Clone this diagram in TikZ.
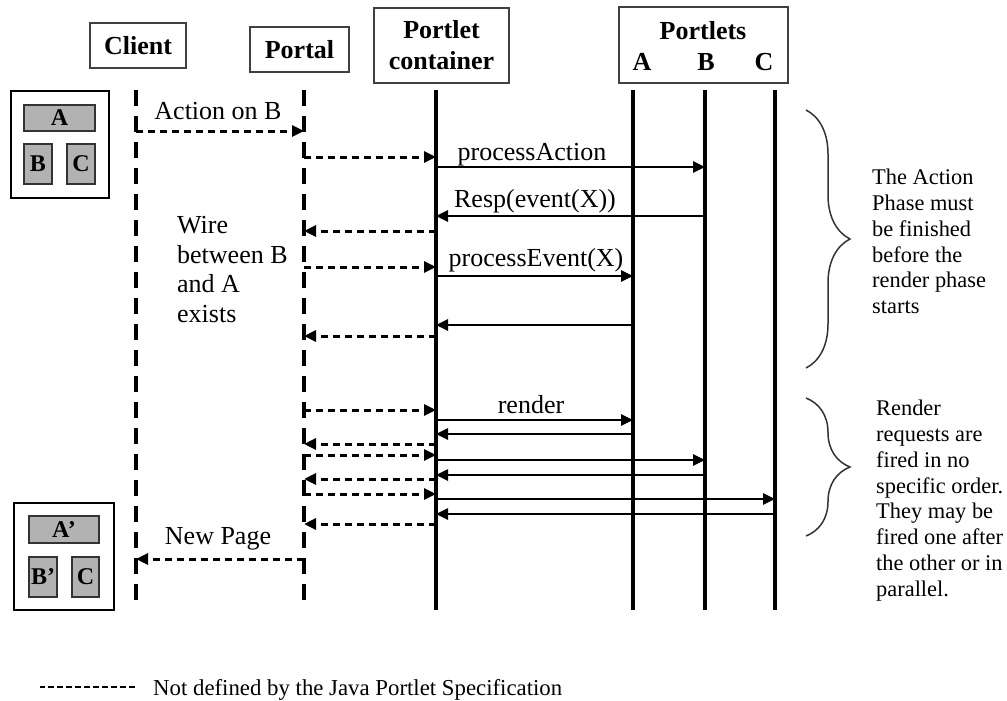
\documentclass[tikz,border=0pt]{standalone}
\usepackage{fontspec}
\setmainfont{Liberation Serif}
\usepackage{tikz}
\usetikzlibrary{arrows.meta,positioning,calc,decorations.pathreplacing}

\begin{document}
\begin{tikzpicture}[x=1pt, y=-1pt,
    actor/.style={draw=black!75, line width=1.5pt, fill=white, inner sep=0pt, align=center, font=\fontsize{26}{31}\selectfont\bfseries},
    head/.style={inner sep=0pt, font=\fontsize{26}{31}\selectfont\bfseries},
    life/.style={line width=4pt, dash pattern=on 16pt off 10pt},
    bar/.style={line width=3.5pt},
    call/.style={line width=2.5pt, -{Triangle[length=12pt,width=11pt]}},
    wire/.style={line width=3pt, dash pattern=on 7pt off 5pt, -{Triangle[length=12pt,width=11pt]}},
    lbl/.style={inner sep=0pt, font=\fontsize{26}{31}\selectfont},
    note/.style={inner sep=0pt, anchor=north west, align=left, font=\fontsize{22.4}{25.8}\selectfont},
    page/.style={draw, line width=1.5pt, fill=white, inner sep=0pt},
    pane/.style={draw=black!80, line width=1.5pt, fill=black!30, inner sep=0pt, font=\fontsize{24}{28}\selectfont\bfseries},
    phase/.style={draw=black!80, line width=1.5pt, decorate, decoration={brace, amplitude=44pt, aspect=0.5}}
]
\useasboundingbox (0,0) rectangle (1007,701);

% headers
\node[actor, minimum width=96pt, minimum height=45pt] (client) at (138,45.5) {Client};
\node[actor, minimum width=99pt, minimum height=45pt] (portal) at (299.5,49.5) {Portal};
\node[actor, minimum width=135pt, minimum height=75pt] (container) at (441.5,45.5) {Portlet\\container};
\node[actor, minimum width=169pt, minimum height=76pt] (portlets) at (703.5,45) {};
\node[head] (hdr) at (703,31) {Portlets};
\node[head] (hdrA) at (642,62) {A};
\node[head] (hdrB) at (706,62) {B};
\node[head] (hdrC) at (764,62) {C};

% lifelines
\coordinate (cl) at (136,90);
\coordinate (pl) at (304,90);
\coordinate (ct) at (436,90);
\coordinate (pa) at (633,90);
\coordinate (pb) at (705,90);
\coordinate (pc) at (775,90);
\draw[life] (cl) -- ++(0,518);
\draw[life] (pl) -- ++(0,518);
\draw[bar] (ct) -- ++(0,520);
\draw[bar] (pa) -- ++(0,520);
\draw[bar] (pb) -- ++(0,520);
\draw[bar, line width=4pt] (pc) -- ++(0,520);

% page before
\node[page, minimum width=98pt, minimum height=107pt] (page1) at (60,144.5) {};
\node[pane, minimum width=71pt, minimum height=26pt] (p1a) at (59.5,118) {A};
\node[pane, minimum width=28pt, minimum height=40pt] (p1b) at (38,164) {B};
\node[pane, minimum width=28pt, minimum height=40pt] (p1c) at (81,164) {C};

% action phase
\draw[wire] (cl |- 0,131) -- (pl |- 0,131);
\node[lbl] (act) at (218,111) {Action on B};
\draw[wire] (pl |- 0,157) -- (ct |- 0,157);
\draw[call] (ct |- 0,167) -- (pb |- 0,167);
\node[lbl] (pact) at (532,155) {processAction};
\draw[call] (pb |- 0,216) -- (ct |- 0,216);
\node[lbl] (resp) at (535,201) {Resp(event(X))};
\draw[wire] (ct |- 0,231) -- (pl |- 0,231);
\draw[wire] (pl |- 0,267) -- (ct |- 0,267);
\draw[call] (ct |- 0,276) -- (pa |- 0,276);
\node[lbl] (pevt) at (536,260) {processEvent(X)};
\draw[call] (pa |- 0,325) -- (ct |- 0,325);
\draw[wire] (ct |- 0,336) -- (pl |- 0,336);
\node[lbl, anchor=north west, align=left, font=\fontsize{26}{29.7}\selectfont] (wiretxt) at (177,216) {Wire\\between B\\and A\\exists};

% render phase
\draw[wire] (pl |- 0,410) -- (ct |- 0,410);
\draw[call] (ct |- 0,420) -- (pa |- 0,420);
\node[lbl] (rend) at (531,405) {render};
\draw[call] (pa |- 0,434) -- (ct |- 0,434);
\draw[wire] (ct |- 0,444) -- (pl |- 0,444);
\draw[wire] (pl |- 0,455) -- (ct |- 0,455);
\draw[call] (ct |- 0,460) -- (pb |- 0,460);
\draw[call] (pb |- 0,475) -- (ct |- 0,475);
\draw[wire] (ct |- 0,479) -- (pl |- 0,479);
\draw[wire] (pl |- 0,494) -- (ct |- 0,494);
\draw[call] (ct |- 0,499) -- (pc |- 0,499);
\draw[call] (pc |- 0,514) -- (ct |- 0,514);
\draw[wire] (ct |- 0,524) -- (pl |- 0,524);
\draw[wire] (pl |- 0,559) -- (cl |- 0,559);
\node[lbl] (newpg) at (218,539) {New Page};

% page after
\node[page, minimum width=100pt, minimum height=107pt] (page2) at (64,556.5) {};
\node[pane, minimum width=70pt, minimum height=27pt] (p2a) at (64,529.5) {A’};
\node[pane, minimum width=28pt, minimum height=40pt] (p2b) at (43,577) {B’};
\node[pane, minimum width=27pt, minimum height=40pt] (p2c) at (85.5,577) {C};

% phases
\coordinate (br1) at (806,110);
\coordinate (br2) at (806,398);
\draw[phase] (br1) -- ++(0,258);
\draw[phase] (br2) -- ++(0,138);
\node[note] (actnote) at (872,169) {The Action\\Phase must\\be finished\\before the\\render phase\\starts};
\node[note] (rendnote) at (876,400) {Render\\requests are\\fired in no\\specific order.\\They may be\\fired one after\\the other or in\\parallel.};

% legend
\node[note, anchor=base west, font=\fontsize{22.8}{26}\selectfont] (legend) at (153,695) {Not defined by the Java Portlet Specification};
\draw[line width=2pt, dash pattern=on 6pt off 3pt] ([xshift=-18pt,yshift=8pt]legend.base west) -- ++(-95,0);
\end{tikzpicture}
\end{document}
